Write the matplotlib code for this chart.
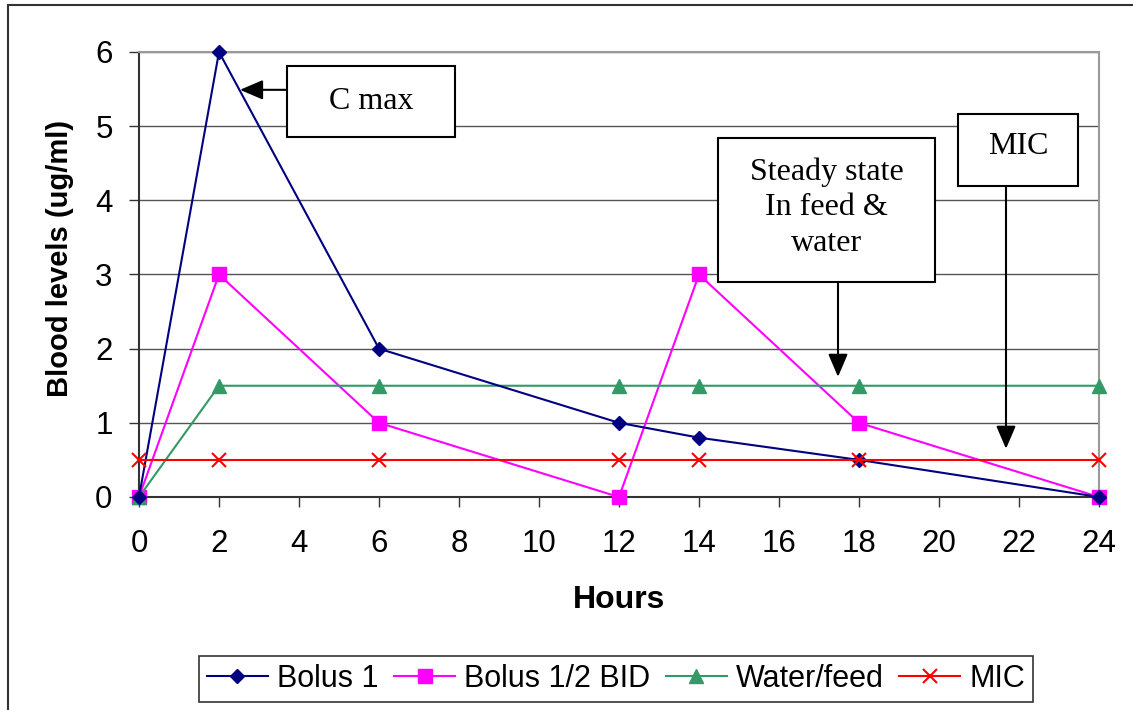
import matplotlib
matplotlib.use("Agg")
import matplotlib.pyplot as plt
from matplotlib.patches import Rectangle

plt.rcParams["font.family"] = ["Liberation Sans", "DejaVu Sans"]

# Blood level data (ug/ml) over time
hours = [0, 2, 6, 12, 14, 18, 24]
bolus_1 = [0, 6, 2, 1, 0.8, 0.5, 0]
bolus_half_bid = [0, 3, 1, 0, 3, 1, 0]
water_feed = [0, 1.5, 1.5, 1.5, 1.5, 1.5, 1.5]
mic = [0.5, 0.5, 0.5, 0.5, 0.5, 0.5, 0.5]

x_ticks = list(range(0, 25, 2))
y_ticks = list(range(0, 7))

fig = plt.figure(figsize=(11.33, 7.10), dpi=100)
ax = fig.add_axes([139 / 1133, 1 - 497 / 710, 960 / 1133, 445 / 710])

# Chart border
fig.patches.append(Rectangle((8 / 1133, -0.1), 1.2, 1 - 5 / 710 + 0.1,
                             transform=fig.transFigure, fill=False,
                             edgecolor="#333333", linewidth=1.5))

ax.plot(hours, bolus_1, color="#000080", marker="D", markersize=7,
        linewidth=1.5, label="Bolus 1", clip_on=False, zorder=4)
ax.plot(hours, bolus_half_bid, color="#FF00FF", marker="s", markersize=10,
        linewidth=1.5, label="Bolus 1/2 BID", clip_on=False, zorder=3)
ax.plot(hours, water_feed, color="#339966", marker="^", markersize=10,
        linewidth=1.5, label="Water/feed", clip_on=False, zorder=3)
ax.plot(hours, mic, color="#FF0000", marker="x", markersize=10,
        markeredgewidth=1.5, linewidth=1.5, label="MIC", clip_on=False, zorder=5)

ax.set_xlim(0, 24)
ax.set_ylim(0, 6)
ax.set_xticks(x_ticks)
ax.set_yticks(y_ticks)
ax.tick_params(axis="both", labelsize=22.5, direction="out", length=7,
               width=1, color="#333333")
ax.tick_params(axis="x", pad=16)
ax.tick_params(axis="y", pad=12)
ax.yaxis.grid(True, color="#555555", linewidth=1)
ax.set_axisbelow(True)

for side in ["left", "bottom"]:
    ax.spines[side].set_color("#333333")
    ax.spines[side].set_linewidth(1.5)
for side in ["top", "right"]:
    ax.spines[side].set_color("#999999")
    ax.spines[side].set_linewidth(1.5)

ax.set_xlabel("Hours", fontsize=23, fontweight="bold")
ax.set_ylabel("Blood levels (ug/ml)", fontsize=21, fontweight="bold")
ax.xaxis.set_label_coords(0.5, -0.198)
ax.yaxis.set_label_coords(-0.068, 0.537)

# Callout boxes with arrows
serif = ["Liberation Serif", "DejaVu Serif"]
arrow = dict(arrowstyle="-|>,head_length=0.7,head_width=0.3", color="black",
             lw=1.5, shrinkA=0, shrinkB=0, mutation_scale=20)

ax.add_patch(Rectangle((3.7, 4.85), 4.2, 0.96, fill=True, facecolor="white",
                       edgecolor="black", linewidth=1.5, clip_on=False, zorder=6))
ax.text(5.8, 5.33, "C max", family=serif, fontsize=23, ha="center", va="center",
        zorder=7)
ax.annotate("", xy=(2.525, 5.49), xytext=(3.7, 5.49), arrowprops=arrow, zorder=6)

ax.add_patch(Rectangle((14.475, 2.90), 5.425, 1.94, fill=True, facecolor="white",
                       edgecolor="black", linewidth=1.5, clip_on=False, zorder=6))
ax.text(17.19, 3.90, "Steady state\nIn feed &\nwater", family=serif, fontsize=23,
        ha="center", va="center", linespacing=1.3, zorder=7)
ax.annotate("", xy=(17.475, 1.62), xytext=(17.475, 2.90), arrowprops=arrow, zorder=6)

ax.add_patch(Rectangle((20.475, 4.19), 3.0, 0.97, fill=True, facecolor="white",
                       edgecolor="black", linewidth=1.5, clip_on=False, zorder=6))
ax.text(21.975, 4.73, "MIC", family=serif, fontsize=23, ha="center", va="center",
        zorder=7)
ax.annotate("", xy=(21.675, 0.65), xytext=(21.675, 4.19), arrowprops=arrow, zorder=6)

leg = fig.legend(loc="center", bbox_to_anchor=(616 / 1133, 1 - 679 / 710), ncol=4,
                 fontsize=22, frameon=True, fancybox=False, edgecolor="black",
                 handlelength=2.0, handletextpad=0.3, columnspacing=0.5,
                 borderpad=0.25)
leg.get_frame().set_linewidth(1.2)

fig.savefig("out.png", dpi=100)
